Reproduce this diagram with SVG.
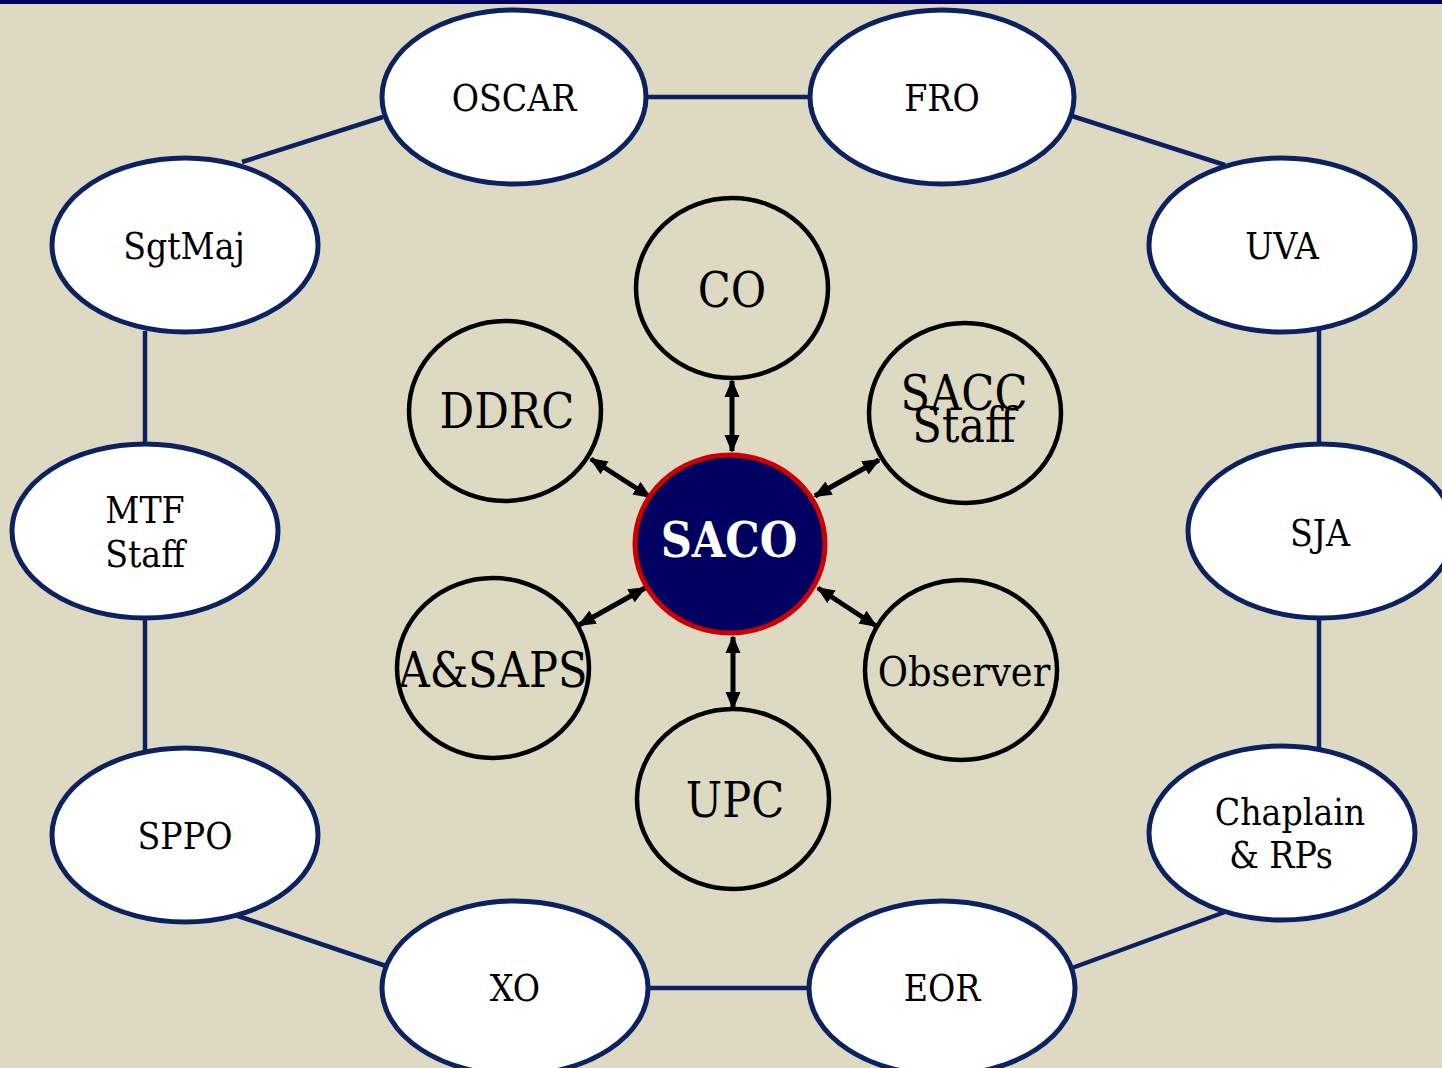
<svg xmlns="http://www.w3.org/2000/svg" width="1442" height="1068" viewBox="0 0 1442 1068">
<style>
.bg{fill:#DDD9C3}
.outer ellipse{fill:#FFFFFF;stroke:#0B2160;stroke-width:5}
.inner ellipse{fill:none;stroke:#000000;stroke-width:4.5}
.link{stroke:#0B2160;stroke-width:4.5;fill:none}
.arrow{stroke:#000000;stroke-width:5;fill:none;marker-start:url(#ah);marker-end:url(#ah)}
text{font-family:"DejaVu Serif Condensed","DejaVu Serif","Liberation Serif",serif;font-stretch:condensed;text-anchor:middle;fill:#000}
.ot{font-size:37px}
.it{font-size:48px}
.saco{font-size:48px;font-weight:bold;fill:#FFFFFF}
</style>
<defs>
<marker id="ah" viewBox="0 0 10 10" refX="9" refY="5" markerWidth="3.6" markerHeight="3.6" orient="auto-start-reverse" markerUnits="strokeWidth">
<path d="M0,0.8 L10,5 L0,9.2 Z" fill="#000"/>
</marker>
</defs>
<rect class="bg" x="0" y="0" width="1442" height="1068"/>
<rect x="0" y="0" width="1442" height="4" fill="#000060"/>
<g id="connectors">
<line class="link" x1="646" y1="97" x2="809" y2="97"/>
<line class="link" x1="383" y1="117" x2="242" y2="162"/>
<line class="link" x1="1072" y1="116" x2="1225" y2="165"/>
<line class="link" x1="145" y1="331" x2="145" y2="445"/>
<line class="link" x1="1319" y1="329" x2="1319" y2="445"/>
<line class="link" x1="145" y1="617" x2="145" y2="751"/>
<line class="link" x1="1319" y1="617" x2="1319" y2="749"/>
<line class="link" x1="235" y1="915" x2="386" y2="966"/>
<line class="link" x1="1225" y1="912" x2="1072" y2="968"/>
<line class="link" x1="648" y1="988" x2="809" y2="988"/>
<line class="arrow" x1="732" y1="381" x2="732" y2="451"/>
<line class="arrow" x1="591" y1="459" x2="650" y2="497"/>
<line class="arrow" x1="879" y1="460" x2="815" y2="496"/>
<line class="arrow" x1="579" y1="625" x2="645" y2="588"/>
<line class="arrow" x1="876" y1="626" x2="818" y2="588"/>
<line class="arrow" x1="733" y1="637" x2="733" y2="708"/>
</g>
<g class="outer">
<g id="oscar"><ellipse cx="514" cy="97" rx="132" ry="87"/><text class="ot" x="514" y="111">OSCAR</text></g>
<g id="fro"><ellipse cx="942" cy="97" rx="132" ry="87"/><text class="ot" x="942" y="111">FRO</text></g>
<g id="sgtmaj"><ellipse cx="185" cy="245" rx="133" ry="87"/><text class="ot" x="184" y="259">SgtMaj</text></g>
<g id="uva"><ellipse cx="1282" cy="245" rx="133" ry="87"/><text class="ot" x="1282" y="259">UVA</text></g>
<g id="mtf"><ellipse cx="145" cy="531" rx="133" ry="87"/><text class="ot" x="145" y="523">MTF</text><text class="ot" x="145" y="567">Staff</text></g>
<g id="sja"><ellipse cx="1321" cy="531" rx="133" ry="87"/><text class="ot" x="1320" y="546">SJA</text></g>
<g id="sppo"><ellipse cx="185" cy="835" rx="133" ry="87"/><text class="ot" x="185" y="849">SPPO</text></g>
<g id="chaplain"><ellipse cx="1282" cy="833" rx="133" ry="87"/><text class="ot" x="1290" y="825">Chaplain</text><text class="ot" x="1281" y="868">&amp; RPs</text></g>
<g id="xo"><ellipse cx="515" cy="988" rx="133" ry="87"/><text class="ot" x="515" y="1001">XO</text></g>
<g id="eor"><ellipse cx="942" cy="988" rx="133" ry="87"/><text class="ot" x="942" y="1001">EOR</text></g>
</g>
<g class="inner">
<g id="co"><ellipse cx="732" cy="288" rx="96" ry="90"/><text class="it" x="732" y="307">CO</text></g>
<g id="ddrc"><ellipse cx="505" cy="411" rx="96" ry="90"/><text class="it" x="507" y="428">DDRC</text></g>
<g id="sacc"><ellipse cx="965" cy="413" rx="96" ry="90"/><text class="it" x="964" y="410">SACC</text><text class="it" x="964" y="442">Staff</text></g>
<g id="asaps"><ellipse cx="493" cy="668" rx="96" ry="90"/><text class="it" x="493" y="687">A&amp;SAPS</text></g>
<g id="observer"><ellipse cx="961" cy="670" rx="96" ry="90"/><text class="it" x="964" y="686" style="font-size:41px">Observer</text></g>
<g id="upc"><ellipse cx="733" cy="799" rx="96" ry="90"/><text class="it" x="735" y="817">UPC</text></g>
</g>
<g id="saco"><ellipse cx="730" cy="544" rx="95" ry="89" fill="#000060" stroke="#CC0000" stroke-width="5"/><text class="saco" x="729" y="557">SACO</text></g>
</svg>
